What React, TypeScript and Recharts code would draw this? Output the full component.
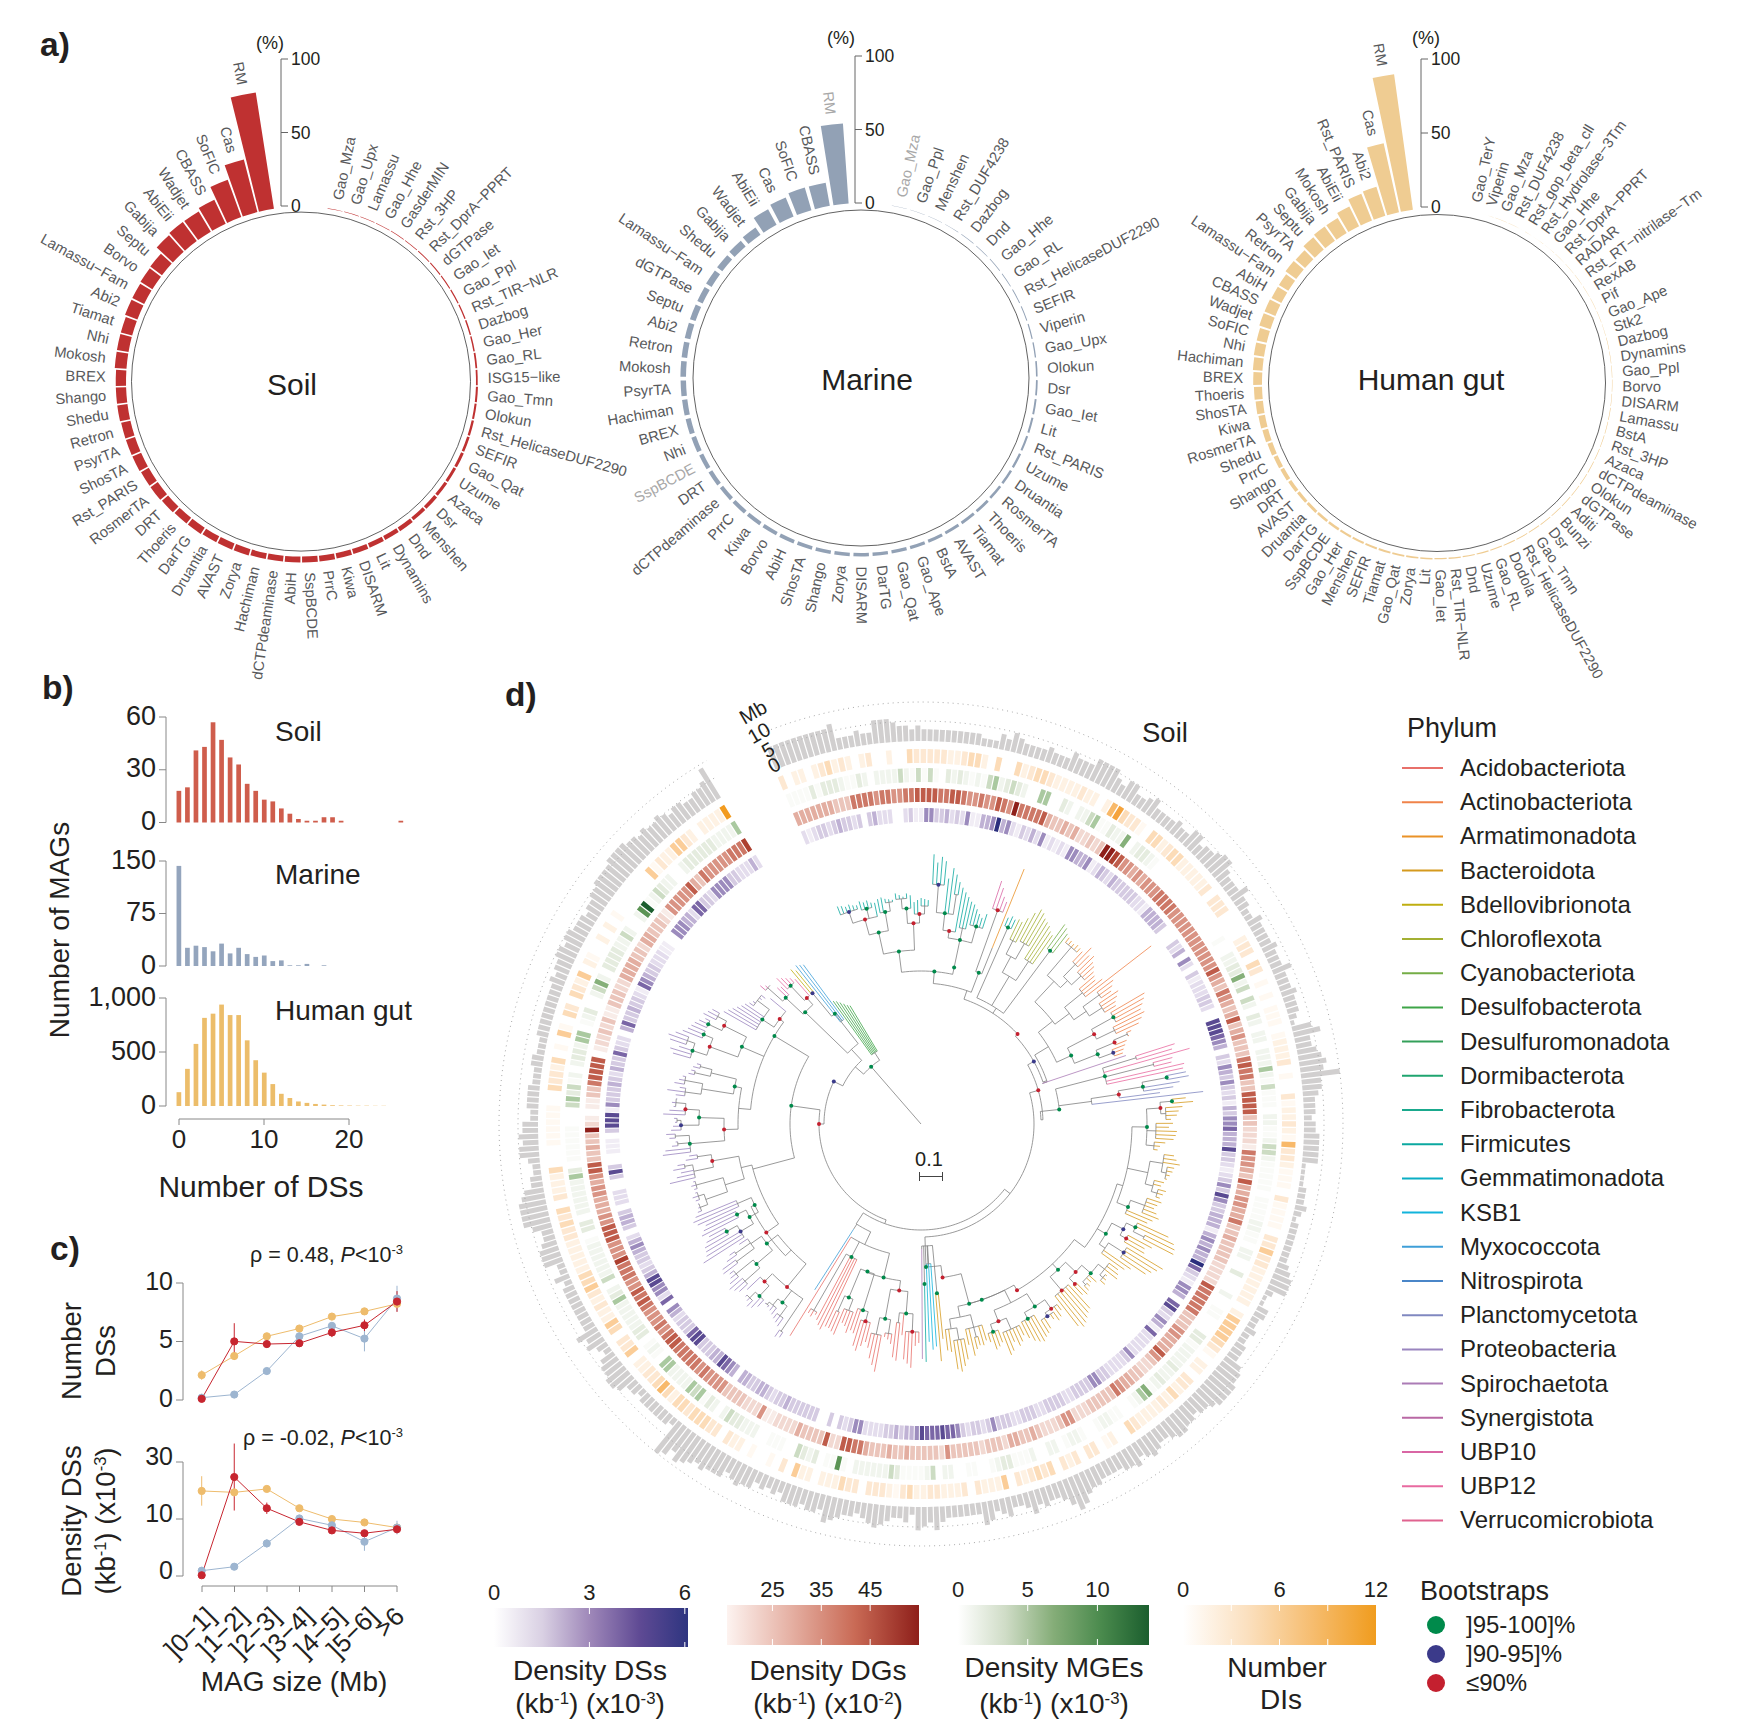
import React from 'react';
import {
  BarChart, Bar, LineChart, Line, XAxis, YAxis, ErrorBar, ReferenceLine,
  RadialBarChart, RadialBar, PolarAngleAxis, PolarRadiusAxis, PolarGrid, Cell,
} from 'recharts';

const FONT = '"Liberation Sans", Arial, sans-serif';
const INK = '#231f20';

// ---------- panel a ----------
const soilNames = ['RM','Cas','SoFIC','CBASS','Wadjet','AbiEii','Gabija','Septu','Borvo','Lamassu−Fam','Abi2','Tiamat','Nhi','Mokosh','BREX','Shango','Shedu','Retron','PsyrTA','ShosTA','Rst_PARIS','RosmerTA','DRT','Thoeris','DarTG','Druantia','AVAST','Zorya','Hachiman','dCTPdeaminase','AbiH','SspBCDE','PrrC','Kiwa','DISARM','Lit','Dynamins','Dnd','Menshen','Dsr','Azaca','Uzume','Gao_Qat','SEFIR','Rst_HelicaseDUF2290','Olokun','Gao_Tmn','ISG15−like','Gao_RL','Gao_Her','Dazbog','Rst_TIR−NLR','Gao_Ppl','Gao_Iet','dGTPase','Rst_DprA−PPRT','Rst_3HP','GasderMIN','Gao_Hhe','Lamassu','Gao_Upx','Gao_Mza'];
const soilShare = [80,37,27,18,16,16,15,10,9.5,9,9,8,8,8,7,7,7,6.5,6.5,6.5,6,6,5.5,5,5,4.5,4.5,4.5,4,4,4,4,4,3.8,3.5,3.2,3,3,2.5,2.5,2.2,2,2,1.8,1.6,1.4,1.4,1.2,1.2,1,1,0.9,0.8,0.7,0.7,0.6,0.5,0.5,0.4,0.4,0.3,0.3];
const marineNames = ['RM','CBASS','SoFIC','Cas','AbiEii','Wadjet','Gabija','Shedu','Lamassu−Fam','dGTPase','Septu','Abi2','Retron','Mokosh','PsyrTA','Hachiman','BREX','Nhi','SspBCDE','DRT','dCTPdeaminase','PrrC','Kiwa','Borvo','AbiH','ShosTA','Shango','Zorya','DISARM','DarTG','Gao_Qat','Gao_Ape','BstA','AVAST','Tiamat','Thoeris','RosmerTA','Druantia','Uzume','Rst_PARIS','Lit','Gao_Iet','Dsr','Olokun','Gao_Upx','Viperin','SEFIR','Rst_HelicaseDUF2290','Gao_RL','Gao_Hhe','Dnd','Dazbog','Rst_DUF4238','Menshen','Gao_Ppl','Gao_Mza'];
const marineShare = [54.6,16,16,14,12,6,5,4.5,4.4,4,4,3.9,3.8,3.8,3.7,3.6,3.5,3.3,3,3,2.8,2.8,2.7,2.6,2.5,2.5,2.5,2.4,2.4,2.3,2.2,2.2,2.2,2,2,1.9,1.8,1.7,1.6,1.4,1.4,1.3,1.2,1.1,0.9,0.8,0.7,0.6,0.5,0.5,0.4,0.4,0.3,0.3,0.2,0.2];
const gutNames = ['RM','Cas','Abi2','Rst_PARIS','AbiEii','Mokosh','Gabija','Septu','PsyrTA','Retron','Lamassu−Fam','AbiH','CBASS','Wadjet','SoFIC','Nhi','Hachiman','BREX','Thoeris','ShosTA','Kiwa','RosmerTA','Shedu','PrrC','Shango','DRT','AVAST','Druantia','DarTG','SspBCDE','Gao_Her','Menshen','SEFIR','Tiamat','Gao_Qat','Zorya','Lit','Gao_Iet','Rst_TIR−NLR','Dnd','Uzume','Gao_RL','Dodola','Rst_HelicaseDUF2290','Gao_Tmn','Dsr','Bunzi','Aditi','dGTPase','Olokun','dCTPdeaminase','Azaca','Rst_3HP','BstA','Lamassu','DISARM','Borvo','Gao_Ppl','Dynamins','Dazbog','Stk2','Gao_Ape','Pif','RexAB','Rst_RT−nitrilase−Tm','RADAR','Rst_DprA−PPRT','Gao_Hhe','Rst_Hydrolase−3Tm','Rst_gop_beta_cll','Rst_DUF4238','Gao_Mza','Viperin','Gao_TerY'];
const gutShare = [93,48,20.6,19.6,15,12,12,11,8.5,9,7.5,7.5,8,8,7,7,6.5,6,5.5,5,4.5,4,3.5,3,2.8,2.5,2.2,2,1.8,1.7,1.6,1.5,1.4,1.3,1.2,1.1,1,0.9,0.9,0.8,0.8,0.7,0.7,0.6,0.6,0.6,0.5,0.5,0.5,0.5,0.5,0.4,0.4,0.4,0.4,0.3,0.3,0.3,0.3,0.3,0.2,0.2,0.2,0.2,0.2,0.1,0.1,0.1,0.1,0.1,0.1,0.1,0.1,0.1];
const shareTicks = [0, 50, 100];

function ShareWheel({ names, share, color, cx, cy, ring, start, end, faded = [] }: any) {
  const W = 680, H = 700;
  const left = cx - W / 2;
  const data = names.map((name: string, i: number) => ({ name, share: share[i] }));
  const band = (end - start) / names.length;
  const tick = (p: any) => {
    const idx = names.indexOf(p.payload.value);
    let phi = 90 - (start + (idx + 0.5) * band);
    if (phi < -180) phi += 360;
    const r = 175 + share[idx] * 1.47 + 10;
    const rad = (phi * Math.PI) / 180;
    const tx = W / 2 + r * Math.sin(rad), ty = cy - r * Math.cos(rad);
    const onRight = phi >= 0;
    const rot = onRight ? phi - 90 : phi + 90;
    return (
      <text x={tx} y={ty} dy={5} fontSize={14.8} fontFamily={FONT}
        fill={faded.includes(p.payload.value) ? '#a8a8a8' : '#58595b'}
        textAnchor={onRight ? 'start' : 'end'} transform={`rotate(${rot} ${tx} ${ty})`}>
        {p.payload.value}
      </text>
    );
  };
  // the band scale lays the first bar one band before startAngle, so both ends move by one band
  return (
    <div style={{ position: 'absolute', left, top: 0 }}>
      <RadialBarChart width={W} height={H} cx={W / 2} cy={cy} innerRadius={175} outerRadius={322}
        layout="centric" data={data} startAngle={start + band} endAngle={end + band} barCategoryGap="9%"
        margin={{ top: 0, right: 0, bottom: 0, left: 0 }}>
        <PolarGrid gridType="circle" radialLines={false} polarRadius={[ring]} stroke="#3a3a3a" strokeWidth={0.8} />
        <PolarAngleAxis type="category" dataKey="name" axisLine={false} tickLine={false} tick={tick} />
        <PolarRadiusAxis type="number" domain={[0, 100]} tick={false} axisLine={false} />
        <RadialBar dataKey="share" fill={color} isAnimationActive={false} />
      </RadialBarChart>
    </div>
  );
}

function ShareAxis({ x, top, bottom }: any) {
  return (
    <div style={{ position: 'absolute', left: x - 12, top: top - 12 }}>
      <LineChart width={62} height={bottom - top + 24} data={[{ v: 0 }, { v: 100 }]}
        margin={{ top: 12, bottom: 12, left: 0, right: 0 }}>
        <XAxis hide />
        <YAxis orientation="right" width={50} domain={[0, 100]} ticks={shareTicks} stroke="#666" tickSize={7} tickMargin={3}
          tick={{ fontSize: 17.5, fill: INK, fontFamily: FONT }} interval={0} />
        <Line dataKey="v" stroke="none" dot={false} isAnimationActive={false} />
      </LineChart>
    </div>
  );
}

// ---------- panel b ----------
const soilHist = [18,20,41,43,57,47,37,33,22,18,13,12,8,5,2,1,1,3,3,1,0,0,0,0,0,0,1];
const marineHist = [143,26,29,27,21,32,18,26,17,13,15,7,8,1,1,3,0,1];
const gutHist = [128,344,575,816,855,939,842,842,608,424,309,203,113,74,42,29,19,13,6,5,4,3,3,2,2];

function Histogram({ values, color, top, bottom, max, ticks }: any) {
  const data = values.map((n: number, i: number) => ({ ds: i, n }));
  return (
    <div style={{ position: 'absolute', left: 166 - 90, top: top - 20 }}>
      <BarChart width={90 + 245} height={bottom - top + 35} data={data} margin={{ top: 20, bottom: 15, left: 0, right: 0 }}>
        <XAxis type="number" dataKey="ds" domain={[-1.5, 27.2]} hide />
        <YAxis width={90} domain={[0, max]} ticks={ticks} stroke="#888" tickSize={7} tickMargin={3} interval={0}
          tickFormatter={(v: number) => v.toLocaleString('en-US')}
          tick={{ fontSize: 27, fill: INK, fontFamily: FONT, dy: -2 }} />
        <Bar dataKey="n" fill={color} barSize={4.7} isAnimationActive={false} />
      </BarChart>
    </div>
  );
}

// ---------- panel c ----------
const sizeBins = [']0−1]', ']1−2]', ']2−3]', ']3−4]', ']4−5]', ']5−6]', '>6'];
const numGut = [2.05,3.7,5.4,6.07,7.1,7.55,8.2];
const numMarine = [0.1,0.37,2.4,5.4,6.3,5.2,8.66];
const numSoil = [0,4.96,4.73,4.8,5.73,6.35,8.4];
const numGutErr = [0.4,0.3,0.1,0.1,0.1,0.1,0.3];
const numMarineErr = [0.1,0.1,0.2,0.2,0.2,1.1,1.1];
const numSoilErr = [0.1,1.57,0.3,0.3,0.4,0.5,0.9];
const denGut = [14.85,14.6,15.2,11.8,9.9,9.3,8.4];
const denMarine = [0.8,1.5,5.6,10,8.8,5.9,8.4];
const denSoil = [0,17.3,11.8,9.4,7.9,7.4,8.1];
const denGutErr = [2.6,0.3,0.2,0.2,0.2,0.2,0.2];
const denMarineErr = [0.3,0.3,0.7,0.4,0.4,1.6,1.2];
const denSoilErr = [0.1,5.9,1,0.5,0.5,0.5,0.7];
const GUT_LINE = '#eebc6c', MARINE_LINE = '#9db5d0', SOIL_LINE = '#c7252f';

function SizeTrend({ gut, marine, soil, gutErr, marineErr, soilErr, tickTop, bottom, axisMax, plotMax, ticks, fmt, labelShift }: any) {
  const data = sizeBins.map((bin, i) => ({ bin, gut: gut[i], marine: marine[i], soil: soil[i], gutErr: gutErr[i], marineErr: marineErr[i], soilErr: soilErr[i] }));
  const series = [['gut', 'gutErr', GUT_LINE], ['marine', 'marineErr', MARINE_LINE], ['soil', 'soilErr', SOIL_LINE]];
  const plotH = ((bottom - tickTop) * plotMax) / axisMax;
  return (
    <>
      <div style={{ position: 'absolute', left: 183 - 40, top: tickTop - 20 }}>
        <LineChart width={48} height={bottom - tickTop + 40} data={[{ v: 0 }]} margin={{ top: 20, bottom: 20, left: 0, right: 0 }}>
          <XAxis hide />
          <YAxis width={40} domain={[0, axisMax]} ticks={ticks} stroke="#888" tickSize={7} tickMargin={3} interval={0}
            tickFormatter={fmt} tick={{ fontSize: 25, fill: INK, fontFamily: FONT, dy: labelShift }} />
          <Line dataKey="v" stroke="none" dot={false} isAnimationActive={false} />
        </LineChart>
      </div>
      <div style={{ position: 'absolute', left: 183, top: bottom - plotH - 10 }}>
        <LineChart width={232} height={plotH + 25} data={data} margin={{ top: 10, bottom: 15, left: 0, right: 0 }}>
          <XAxis dataKey="bin" hide scale="point" padding={{ left: 18.7, right: 18 }} />
          <YAxis hide domain={[0, plotMax]} />
          {series.map(([key, err, col]) => (
            <Line key={key} dataKey={key} stroke={col} strokeWidth={1} isAnimationActive={false}
              dot={{ r: 3.6, fill: col, stroke: col }}>
              <ErrorBar dataKey={err} width={0} stroke={col} strokeWidth={1} direction="y" />
            </Line>
          ))}
        </LineChart>
      </div>
    </>
  );
}

// ---------- panel d: heat rings, one level per genome, clockwise from the gap ----------
const densityDS = [
  2,1,2,3,3,2,3,4,3,3,2,3,0,3,4,2,2,2,0,0,2,3,1,1,
  5,5,3,3,4,2,3,2,5,1,1,4,4,5,9,4,5,2,1,3,2,4,2,5,1,2,1,2,1,5,5,4,4,5,1,2,4,3,2,4,3,3,3,3,3,2,2,1,4,4,4,4,3,0,0,0,3,2,4,0,5,2,0,3,1,2,2,2,3,3,2,0,0,7,7,7,6,5,4,0,3,2,5,4,3,5,3,2,3,1,4,3,5,
  5,6,4,4,4,7,3,3,2,1,2,3,5,3,7,5,3,3,4,4,4,1,4,5,4,5,4,4,9,6,3,2,1,5,5,4,0,6,7,3,2,5,4,1,6,2,2,2,2,2,5,3,2,2,2,2,3,3,5,5,3,3,3,3,2,2,3,3,3,3,2,2,3,3,3,2,2,3,3,3,5,3,2,3,3,2,3,5,6,6,7,6,6,
  6,7,5,4,4,3,4,3,3,2,2,2,2,5,5,3,2,3,0,3,0,0,3,3,3,3,3,3,4,3,3,2,3,4,4,3,3,4,4,0,4,5,6,7,4,4,3,3,3,7,7,6,3,3,3,2,4,5,0,6,2,5,5,7,7,4,3,2,3,3,4,5,4,2,0,3,4,4,3,0,2,2,2,0,0,3,7,3,0,0,1,1,1,0,3,
  7,7,7,1,5,3,3,3,4,3,2,4,3,3,6,3,2,2,0,4,6,3,3,4,3,3,2,1,6,5,4,3,3,2,2,2,1,1,0,0,5,5,5,4,4,2,6,6,3,3,2,5,5,5,5,3,3,2,2,2,4,2,
];
const densityDG = [
  4,4,4,4,4,4,4,3,3,3,6,6,6,6,5,6,6,5,5,6,6,7,7,7,
  7,6,6,7,7,6,5,5,6,5,5,7,6,5,9,6,6,6,6,7,4,3,3,4,3,4,2,2,3,2,3,9,9,8,7,5,5,4,5,4,5,5,5,6,6,6,6,5,5,5,5,5,5,5,5,5,5,5,5,7,5,4,3,6,5,4,3,4,7,3,4,5,3,3,3,6,7,6,6,3,3,7,7,7,7,3,3,2,2,2,1,6,5,5,4,3,7,4,4,
  5,5,4,4,6,3,3,4,3,3,3,3,2,2,2,2,7,6,6,6,6,6,3,3,3,5,5,4,4,4,7,5,3,2,2,3,3,4,4,5,6,3,3,3,3,3,2,2,2,5,5,3,2,2,2,3,4,3,3,4,4,2,3,3,3,2,3,3,3,3,3,5,2,3,3,3,3,3,4,3,3,4,3,3,3,4,6,6,7,
  7,2,2,7,3,3,3,3,4,2,2,2,2,1,1,5,2,2,2,3,3,3,3,5,5,5,5,6,5,6,6,6,6,6,7,7,6,5,6,5,5,5,6,7,6,7,5,5,6,6,6,8,5,5,5,7,7,7,5,5,4,4,4,5,5,4,5,7,7,3,3,4,3,3,9,2,1,0,1,1,3,3,6,7,
  7,7,7,0,1,2,2,3,2,3,1,1,3,3,3,2,2,4,4,4,4,3,3,2,4,4,3,3,3,2,1,5,5,5,5,5,7,4,3,6,5,5,5,5,5,6,6,6,8,
];
const densityMGE = [
  1,1,1,1,3,1,3,3,3,2,1,1,3,2,0,2,2,2,2,4,2,1,4,1,
  4,1,0,3,2,3,2,1,2,1,4,5,2,3,4,3,2,0,0,5,5,0,0,3,2,0,2,2,4,5,1,1,3,2,2,6,0,2,3,3,2,1,0,0,0,0,0,0,0,0,0,0,0,0,0,0,0,0,1,0,0,2,2,3,3,6,2,4,0,4,2,0,3,2,0,2,2,0,2,2,2,5,2,1,4,1,1,1,0,2,2,1,1,2,4,
  4,2,1,1,1,1,1,0,1,1,1,1,2,2,1,1,0,2,2,0,0,3,0,0,0,2,0,0,1,1,0,0,0,3,3,1,2,2,2,2,3,2,2,3,2,1,6,5,2,1,0,0,1,1,2,2,1,0,0,1,2,2,1,0,2,2,0,0,2,1,1,1,3,3,2,1,0,0,1,1,0,0,2,2,0,4,2,1,1,1,1,3,4,2,
  2,2,2,2,2,0,1,7,1,1,0,3,2,3,4,0,0,1,1,1,0,0,2,2,2,3,3,4,2,0,2,3,1,5,4,5,2,2,2,2,5,5,0,1,2,1,0,3,3,2,2,2,2,2,5,3,2,0,4,2,2,2,2,2,2,1,0,3,3,0,2,2,2,2,2,2,5,3,0,1,1,1,1,1,1,0,0,0,4,5,3,
  4,1,2,0,2,3,3,2,5,5,0,1,2,3,0,0,2,4,6,2,0,3,3,3,3,2,2,4,2,0,0,2,7,9,1,2,4,3,2,2,0,0,2,3,3,3,3,3,3,2,2,2,2,5,
];
const numberDI = [
  3,0,2,2,0,2,3,4,2,3,2,0,2,3,0,0,2,0,0,4,3,3,3,3,
  3,2,2,3,4,4,2,0,4,0,0,4,2,3,4,4,3,2,2,2,2,3,2,2,0,2,6,7,4,3,3,1,0,4,4,2,3,4,4,2,2,2,2,2,3,0,3,3,3,0,0,0,0,2,3,3,0,4,3,0,1,0,1,0,1,1,1,0,1,2,2,2,3,0,1,0,0,3,1,2,2,3,2,1,6,3,
  3,2,1,1,1,0,3,1,1,1,1,0,3,3,5,3,3,2,2,2,2,2,2,0,2,5,5,5,5,4,3,1,0,2,2,0,3,3,2,4,2,3,2,2,2,2,3,4,0,0,2,1,0,3,3,0,3,2,3,0,4,3,4,3,2,3,0,5,2,2,2,3,0,3,2,2,2,3,3,2,2,4,3,1,2,3,
  3,3,0,3,3,4,2,2,2,0,2,2,5,0,3,0,1,0,0,1,0,2,2,3,0,3,3,4,4,4,3,4,4,2,4,6,4,3,3,2,2,0,5,3,3,0,4,5,2,2,3,2,3,5,4,4,2,2,2,2,2,3,3,4,3,4,0,3,2,2,2,4,0,0,0,1,1,1,1,1,1,0,0,4,3,
  3,2,4,0,1,0,5,1,0,4,3,0,4,3,2,5,0,2,1,0,0,2,0,2,0,1,0,0,0,0,0,0,0,5,1,3,2,2,5,5,3,2,0,2,2,2,2,8,
];
const genomeMb = [
  6,6,6,6,6,6,6,6,6,6,7,3,3,3,4,3,3,6,6,6,5,4,4,3,
  4,3,3,3,3,3,3,3,3,3,3,2,2,2,4,3,5,4,3,3,3,3,4,3,3,3,5,4,4,4,6,6,6,6,4,3,5,5,3,3,4,5,3,3,3,3,4,3,3,5,5,3,4,4,5,6,6,4,3,3,3,5,3,3,2,2,4,3,3,3,3,4,3,3,3,5,3,3,3,4,3,3,3,2,1,5,7,4,4,5,6,7,6,10,5,
  5,4,3,3,3,2,3,3,4,4,4,4,4,1,1,1,1,2,2,2,3,2,1,2,2,2,2,2,2,2,3,4,5,5,5,2,1,1,3,3,2,2,3,2,2,3,3,3,5,6,6,7,7,7,7,6,5,5,4,5,5,6,6,5,4,4,5,6,5,4,6,5,5,4,4,4,4,5,5,6,8,9,7,5,4,4,5,4,6,4,3,3,5,4,3,5,6,3,3,3,3,3,
  3,4,6,4,5,6,2,4,3,3,4,5,6,5,4,3,4,4,5,6,7,4,5,5,4,5,5,5,3,4,3,4,3,5,5,6,5,4,6,6,6,7,6,7,8,9,7,9,10,2,3,3,3,3,3,3,2,3,3,5,6,6,5,5,4,2,3,5,4,6,3,3,3,3,3,3,3,3,2,4,2,2,5,5,5,4,3,3,5,7,7,7,7,6,5,3,
  3,2,2,3,5,5,4,5,4,4,2,2,3,3,3,3,2,2,2,3,3,2,2,2,3,3,3,3,3,3,3,3,3,4,3,4,4,5,5,4,5,5,4,4,4,3,4,4,5,5,6,6,6,6,7,7,7,7,6,6,5,6,5,5,6,5,4,5,5,4,4,5,5,6,9,
];
const dsShades = ['#ffffff','#f1edf5','#e4dded','#d5cbe2','#bfb1d4','#9c8bbd','#7a66a6','#5a4a92','#3f3686','#2b2f7d'];
const dgShades = ['#ffffff','#f8ece8','#f2d9d2','#ebc5bb','#e3aea1','#d99384','#cd7867','#bf5c4a','#ad4030','#8e1f1a'];
const mgeShades = ['#ffffff','#fafbf8','#f1f5ee','#e5ecdf','#ccdcc3','#aac9a0','#86b07a','#5c9455','#3d7c40','#1b5e2e'];
const diShades = ['#ffffff','#fff9f2','#fef2e4','#fde8d2','#fcdcb8','#fbcd98','#f8b96a','#f5a33c','#f29b1f'];

const RING_START = 111.5, RING_END = -239.5;
const DCX = 920.5, DCY = 1124, DSIZE = 880;

function HeatRing({ levels, shades, inner, outer }: any) {
  const data = levels.map((level: number, id: number) => ({ id, cell: 1 }));
  return (
    <div style={{ position: 'absolute', left: DCX - DSIZE / 2, top: DCY - DSIZE / 2 }}>
      <RadialBarChart width={DSIZE} height={DSIZE} cx={DSIZE / 2} cy={DSIZE / 2} innerRadius={inner} outerRadius={outer}
        layout="centric" data={data} startAngle={RING_START} endAngle={RING_END} barCategoryGap="10%"
        margin={{ top: 0, right: 0, bottom: 0, left: 0 }}>
        <PolarAngleAxis type="category" dataKey="id" tick={false} axisLine={false} tickLine={false} />
        <PolarRadiusAxis type="number" domain={[0, 1]} tick={false} axisLine={false} />
        <RadialBar dataKey="cell" isAnimationActive={false}>
          {levels.map((level: number, i: number) => <Cell key={i} fill={shades[level]} />)}
        </RadialBar>
      </RadialBarChart>
    </div>
  );
}

function GenomeRing() {
  const data = genomeMb.map((mb, id) => ({ id, mb }));
  return (
    <div style={{ position: 'absolute', left: DCX - DSIZE / 2, top: DCY - DSIZE / 2 }}>
      <RadialBarChart width={DSIZE} height={DSIZE} cx={DSIZE / 2} cy={DSIZE / 2} innerRadius={383} outerRadius={422}
        layout="centric" data={data} startAngle={RING_START} endAngle={RING_END} barCategoryGap="10%"
        margin={{ top: 0, right: 0, bottom: 0, left: 0 }}>
        <PolarAngleAxis type="category" dataKey="id" tick={false} axisLine={false} tickLine={false} />
        <PolarRadiusAxis type="number" domain={[0, 10]} tick={false} axisLine={false} />
        <RadialBar dataKey="mb" fill="#d1cfcf" isAnimationActive={false} />
      </RadialBarChart>
    </div>
  );
}

// ---------- panel d: tree ----------
const phylumNames = ['Acidobacteriota','Actinobacteriota','Armatimonadota','Bacteroidota','Bdellovibrionota','Chloroflexota','Cyanobacteriota','Desulfobacterota','Desulfuromonadota','Dormibacterota','Fibrobacterota','Firmicutes','Gemmatimonadota','KSB1','Myxococcota','Nitrospirota','Planctomycetota','Proteobacteria','Spirochaetota','Synergistota','UBP10','UBP12','Verrucomicrobiota'];
const phylumColors = ['#e8706a','#f0834a','#ea9227','#d59a1e','#bfae10','#a3b033','#74ad46','#3fa548','#34a05a','#1fa56f','#1aa98d','#0ba8a0','#0aaec4','#12b4dc','#3f9fd8','#4a86c8','#8088c0','#9a85bf','#ab7cb6','#b968a4','#d966a4','#e86aa0','#e0638f'];

// node: [radius, ...children]; a bare number is a tip radius.
// Strings: phylum name, bootstrap class g/b/r, or @angle (degrees clockwise from the top).
const firmSmall = ['Firmicutes',174,'g',[196,'g',[212,'r',[224,'b',233,232,230,231,229,228],[222,'g',231,229,230,227],226],[215,'g',229,230,[224,228,227,226]]],[201,'r',[216,'g',[226,232,230,228,231],229],[210,'r',222,224,[218,226,225,224]]]];
const firmLong = ['Firmicutes',160,'g',[188,'g',[195,'r',[212,'g',[240,'b',270,262,268,264],247,258,[232,252,245]],240],[200,236,232,228],[205,'g',226,222,218,215,220]]];
const pinkOrange = [162,'g',['UBP10',227,'r',256,250,242,238],['Armatimonadota',190,275]];
const chloroGroup = [138,'@33',['Firmicutes',215,'g',224,227,225],['Chloroflexota',172,[190,[205,227,226,232],[208,240,246,244,240]],[195,238,236,232,230]],['Cyanobacteriota',216,'g',246,244,240]];
const actino = ['Actinobacteriota',149,[167,'@52',[195,['Armatimonadota',232,238,237,236,238,237],[205,[222,236,245,238],[218,241,236,234,230]]],[185,[208,228,226,232,291],[200,[220,240,236,232],[215,238,234,230,228]]]],[165,'g',[195,'r',[220,'g',259,256,252,248],[215,250,245,240]],[190,'g',[210,'r',[225,230,226],222],[205,'b',219,216,214]]]];
const pinkPlanct = [120,'@88',[139,'g','@84',['UBP12',190,'g',[225,266,262],279,[240,260,258],270,268],['Planctomycetota',172,[200,'r',[225,'g',[250,'g',270,272],262,255],241],284]]];
const bactU = ['Bacteroidota',211,'@107',[226,'g',[240,'r',[252,'g',266,273],[245,262,258,256,250]],[235,252,248,256,255,253],[234,245,240,238]],[232,[245,255,258,262,[250,257,256,254,252]],[240,250,248,[246,254,252,250]]],[223,'g',[238,253,250,248,252,256],251,247]];
const bactM = ['Bacteroidota',215,'g',[228,'b',[238,'g',272,280,[250,283,284]],[235,'r',262,256,258]],[222,[240,'b',282,278,274,270],255,250]];
const bactL = ['Bacteroidota',200,'g',[214,'r',[226,'g',[234,245,248,250,[238,240,242,244]],236,232,[230,234,236]],[222,'r',238,235]],[218,'r',250,252,255,258,260,256]];
const bactB = ['Bacteroidota',186,'g',[200,[215,'g',[226,'r',233,238,[230,'b',240,236,232,242,245]],[222,'g',247,250,248,245,240]],[212,'r',[224,235,240,243,237,245,248],[220,'g',233,236,238,229]]],[197,[210,226,230,[220,229,232],238,226],[207,[219,240,246,251,248],230,228]]];
const cyanSet = [122,['Bacteroidota',170,'g',216,238],['KSB1',140,223,226,218],['Firmicutes',160,'g',238],['Spirochaetota',125,235]];
const acido = ['Acidobacteriota',119,'@213',[133,'@205',[158,'g',[168,'r',[190,'g',[208,'r',219,222,244,240,236],212,[200,238,235]],[198,'g',[212,222,218,216],[215,252,246,240,230]]],[157,'g',[195,'g',[205,'r',225,230,236,232],220,218],[188,'g',[200,222,216,214,228],[205,226,224]]]],[150,'g',224,229,226,222,[215,218,222,220]],249],['Myxococcota',125,197]];
const proteoL1 = [181,[211,'r',[250,256,258],[226,'g',[238,248,246,244],[234,242,240,[237,239,238]]],[222,'r',[236,'g',245,250,[244,252,248,246]],240]],[195,'g',[216,'g',[236,247,250,253],[238,249,245,243]],[208,[230,248,246],[226,238,232],218]]];
const proteoL2 = [185,'g',[195,'g',[210,'b',258,252,250,[222,'g',249,245,240]],[205,'g',246,242,238]],[200,245,248,244]];
const proteoL3 = [185,[205,[228,[236,240,238,237],[234,238,240,236]],[226,[233,236,238,235]]],[212,'r',[232,258,250,245,[240,252,247]],[226,238,234]]];
const proteoL4 = [183,[197,'r',[232,'g',260,257,[244,250,246],[246,252,255]],[222,'g',[240,'b',250,248,[244,246,247]],[236,'r',258,252,[246,248,250,245]]]],[190,'g',[222,[238,247,256,244],[240,250,246,243]],[216,[232,238,236],[228,235,232]]]];
const proteoL5 = [195,'g',[225,'r',[240,'g',258,262,254,[248,265,268,262]],[235,'g',256,252,250]],[220,'r',[235,'g',248,245,240],[230,244,241,238]]];
const proteoU = [176,'r',[190,'g',227,224,221,218,215,213,[205,210,208,205,202,200]],196];
const proteoAll = ['Proteobacteria',131,'g','@278',[174,'@255',[189,'r',proteoL1,proteoL2],proteoL3],[171,'g','@301',proteoL4,proteoL5,proteoU]];
const upperPinks = [102,'@317',[161,'g','@314',['UBP10',185,'g',[205,212,208,205],198,196],['UBP12',170,'r',[190,'g',205,202,199,196],192]],[140,'g','@322',['Bdellovibrionota',170,'b',202,198],['Myxococcota',130,202,200,198]]];
const desulfo = ['Desulfobacterota',85,'@327',151,149,146,143,140,138];

const treeRoot = [76,'g','@319',
  [87,'@311',
    [97,'b','@296',
      [102,'r','@270',
        [106,'@200',
          [113,'@128',
            [122,'r','@74',
              [129,'b','@61',
                [132,'r','@47',[141,'@19',[153,'g','@5',firmSmall,firmLong],pinkOrange],chloroGroup],
                [133,'@71',actino,['Spirochaetota',128,216]],
              ],
              pinkPlanct,
            ],
            [143,'g','@178',[155,'r','@172',[186,'g','@165',[192,'r','@150',[205,'@127',bactU,bactM],bactL],bactB]],cyanSet],
          ],
          acido,
        ],
        proteoAll,
      ],
    ],
    upperPinks,
  ],
  desulfo,
];

function buildTree(root: any[]) {
  const strokes: Record<string, any[]> = {};
  const marks: Record<string, any[]> = { g: [], b: [], r: [] };
  const at = (phi: number, r: number) => {
    const a = (phi * Math.PI) / 180;
    return { x: r * Math.sin(a), y: r * Math.cos(a) };
  };
  const push = (color: string, pts: any[]) => {
    const list = strokes[color] || (strokes[color] = []);
    list.push(...pts, { x: pts[pts.length - 1].x, y: null });
  };
  const countTips = (n: any): number => {
    if (typeof n === 'number') return 1;
    const nums = n.filter((c: any) => typeof c !== 'string');
    return nums.slice(1).reduce((s: number, c: any) => s + countTips(c), 0);
  };
  const total = countTips(root);
  const first = 90 - RING_START;
  const step = (RING_START - RING_END) / total;
  let tipIndex = 0;
  const walk = (n: any, color: string, parentR: number): number => {
    if (typeof n === 'number') {
      const phi = first + (tipIndex + 0.5) * step;
      tipIndex += 1;
      push(color, [at(phi, parentR), at(phi, n)]);
      return phi;
    }
    let own = color, boot = '', fixed: number | null = null, r = 0, gotR = false;
    const kids: any[] = [];
    n.forEach((c: any) => {
      if (typeof c === 'string') {
        if (c[0] === '@') fixed = Number(c.slice(1));
        else if (c.length === 1) boot = c;
        else own = c;
      } else if (!gotR) { r = c; gotR = true; }
      else kids.push(c);
    });
    const angles = kids.map((k) => walk(k, own, r));
    const phi = fixed !== null ? fixed : (angles[0] + angles[angles.length - 1]) / 2;
    const lo = Math.min(phi, ...angles), hi = Math.max(phi, ...angles);
    const arc = [];
    for (let a = lo; a < hi; a += 1.5) arc.push(at(a, r));
    arc.push(at(hi, r));
    push('stem', arc);
    push('stem', [at(phi, parentR), at(phi, r)]);
    if (boot) marks[boot].push(at(phi, r));
    return phi;
  };
  walk(root, 'stem', 0);
  return { strokes, marks };
}

const MB_GUIDES = [403, 422];
const BOOT_COLORS: Record<string, string> = { g: '#008a4b', b: '#3b3a8a', r: '#c4202f' };

function Tree() {
  const { strokes, marks } = buildTree(treeRoot);
  const guides = MB_GUIDES.map((r) => {
    const pts = [];
    for (let a = 90 - RING_START; a <= 90 - RING_END; a += 1) {
      const rad = (a * Math.PI) / 180;
      pts.push({ x: r * Math.sin(rad), y: r * Math.cos(rad) });
    }
    return pts;
  });
  const half = DSIZE / 2;
  return (
    <div style={{ position: 'absolute', left: DCX - half, top: DCY - half }}>
      <LineChart width={DSIZE} height={DSIZE} margin={{ top: 0, right: 0, bottom: 0, left: 0 }}>
        <XAxis type="number" dataKey="x" domain={[-half, half]} hide />
        <YAxis type="number" domain={[-half, half]} hide />
        {guides.map((g, i) => (
          <Line key={i} data={g} dataKey="y" stroke="#a9a9a9" strokeWidth={1} strokeDasharray="1 4" dot={false} isAnimationActive={false} />
        ))}
        {Object.keys(strokes).map((k) => (
          <Line key={k} data={strokes[k]} dataKey="y" dot={false} isAnimationActive={false}
            stroke={k === 'stem' ? '#808080' : phylumColors[phylumNames.indexOf(k)]} strokeWidth={0.8} />
        ))}
        {Object.keys(marks).map((k) => (
          <Line key={k} data={marks[k]} dataKey="y" stroke="none" isAnimationActive={false}
            dot={{ r: 2, fill: BOOT_COLORS[k], stroke: 'none' }} />
        ))}
      </LineChart>
    </div>
  );
}

// ---------- colour keys ----------
function ColorKey({ id, left, top, width, height, min, max, ticks, guides, stops }: any) {
  return (
    <div style={{ position: 'absolute', left: left - 15, top: top - 34 }}>
      <BarChart width={width + 30} height={height + 34} layout="vertical" data={[{ key: '', v: max }]} barCategoryGap={0}
        margin={{ top: 0, bottom: 0, left: 15, right: 15 }}>
        <defs>
          <linearGradient id={id} x1="0" x2="1" y1="0" y2="0">
            {stops.map((c: string, i: number) => <stop key={i} offset={i / (stops.length - 1)} stopColor={c} />)}
          </linearGradient>
        </defs>
        <XAxis type="number" orientation="top" domain={[min, max]} ticks={ticks} height={34} axisLine={false} tickLine={false} interval={0}
          tick={{ fontSize: 22, fill: INK, fontFamily: FONT }} />
        <YAxis type="category" dataKey="key" hide />
        <Bar dataKey="v" fill={`url(#${id})`} isAnimationActive={false} />
        {guides.map((g: number) => <ReferenceLine key={g} x={g} stroke="#fff" strokeWidth={1} strokeDasharray="6 28 6" />)}
      </BarChart>
    </div>
  );
}

const bootstrapLabels = [']95-100]%', ']90-95]%', '≤90%'];
const bootstrapDots = ['#008a4b', '#3b3a8a', '#c4202f'];

function PerKb({ x, y, exp, transform }: any) {
  return (
    <text x={x} y={y} transform={transform}>
      (kb<tspan dy={-9} fontSize="0.6em">-1</tspan><tspan dy={9}>) (x10</tspan>
      <tspan dy={-9} fontSize="0.6em">{exp}</tspan><tspan dy={9}>)</tspan>
    </text>
  );
}

function Page() {
  const txt = { fontFamily: FONT, fill: INK };
  return (
    <svg width={1738} height={1730} style={{ position: 'absolute', left: 0, top: 0, pointerEvents: 'none' }}>
      <g {...txt} fontWeight="bold" fontSize={33.5}>
        <text x={40} y={56}>a)</text>
        <text x={42} y={699}>b)</text>
        <text x={50} y={1260}>c)</text>
        <text x={505} y={706}>d)</text>
      </g>
      <g {...txt} fontSize={30} textAnchor="middle">
        <text x={292} y={395}>Soil</text>
        <text x={867} y={390}>Marine</text>
        <text x={1431} y={390}>Human gut</text>
      </g>
      <g {...txt} fontSize={18} textAnchor="middle">
        <text x={270} y={49}>(%)</text>
        <text x={841} y={44}>(%)</text>
        <text x={1426} y={44}>(%)</text>
      </g>
      <g {...txt} fontSize={28}>
        <text x={275} y={741}>Soil</text>
        <text x={275} y={884}>Marine</text>
        <text x={275} y={1020}>Human gut</text>
      </g>
      <text {...txt} fontSize={30} textAnchor="middle" x={261} y={1197}>Number of DSs</text>
      <text {...txt} fontSize={28} textAnchor="middle" transform="rotate(-90 69 930)" x={69} y={930}>Number of MAGs</text>
      <g {...txt} fontSize={27.5} textAnchor="middle">
        <text transform="rotate(-90 81 1351)" x={81} y={1351}>Number</text>
        <text transform="rotate(-90 115 1351)" x={115} y={1351}>DSs</text>
        <text transform="rotate(-90 81 1521)" x={81} y={1521}>Density DSs</text>
        <PerKb x={115} y={1521} exp="-3" transform="rotate(-90 115 1521)" />
        <text x={294} y={1691} fontSize={28}>MAG size (Mb)</text>
      </g>
      <g {...txt} fontSize={21.5} textAnchor="end">
        <text x={403} y={1262}>ρ = 0.48, <tspan fontStyle="italic">P</tspan>&lt;10<tspan dy={-8} fontSize={13}>-3</tspan></text>
        <text x={403} y={1445}>ρ = -0.02, <tspan fontStyle="italic">P</tspan>&lt;10<tspan dy={-8} fontSize={13}>-3</tspan></text>
      </g>
      <text {...txt} fontSize={27.5} x={1142} y={742}>Soil</text>
      <text {...txt} fontSize={20} textAnchor="middle" x={929} y={1166}>0.1</text>
      <g stroke="#444" strokeWidth={1}>
        <line x1={919.5} x2={942.5} y1={1176.5} y2={1176.5} />
        <line x1={919.5} x2={919.5} y1={1172} y2={1181} />
        <line x1={942.5} x2={942.5} y1={1172} y2={1181} />
      </g>
      <g {...txt} fontSize={20} textAnchor="middle" dominantBaseline="central">
        <text transform="rotate(-30 753 712)" x={753} y={712}>Mb</text>
        <text transform="rotate(-30 759 733)" x={759} y={733}>10</text>
        <text transform="rotate(-30 768 750)" x={768} y={750}>5</text>
        <text transform="rotate(-30 774 765)" x={774} y={765}>0</text>
      </g>
      <text {...txt} fontSize={27} x={1407} y={737}>Phylum</text>
      {phylumNames.map((name, i) => {
        const y = 768 + i * 34.2;
        return (
          <g key={name}>
            <line x1={1402} x2={1443} y1={y} y2={y} stroke={phylumColors[i]} strokeWidth={2} />
            <text {...txt} fontSize={24} x={1460} y={y + 8}>{name}</text>
          </g>
        );
      })}
      <g {...txt} fontSize={28} textAnchor="middle">
        <text x={590} y={1680}>Density DSs</text>
        <PerKb x={590} y={1713} exp="-3" />
        <text x={828} y={1680}>Density DGs</text>
        <PerKb x={828} y={1713} exp="-2" />
        <text x={1054} y={1677}>Density MGEs</text>
        <PerKb x={1054} y={1713} exp="-3" />
        <text x={1277} y={1677}>Number</text>
        <text x={1281} y={1709}>DIs</text>
      </g>
      <text {...txt} fontSize={27} x={1420} y={1600}>Bootstraps</text>
      {bootstrapLabels.map((label, i) => (
        <g key={label}>
          <circle cx={1436} cy={1625 + i * 29} r={9} fill={bootstrapDots[i]} />
          <text {...txt} fontSize={24} x={1466} y={1633 + i * 29}>{label}</text>
        </g>
      ))}
    </svg>
  );
}

export default function App() {
  return (
    <div style={{ position: 'absolute', left: 0, top: 0, width: 1738, height: 1730, background: '#fff', overflow: 'hidden' }}>
      <ShareWheel names={soilNames} share={soilShare} color="#bf3131" cx={300.5} cy={381.6} ring={169.5} start={98.4} end={441.3} />
      <ShareWheel names={marineNames} share={marineShare} color="#92a1b5" cx={861} cy={378} ring={168} start={93.5} end={440.5} faded={['RM', 'Gao_Mza', 'SspBCDE']} />
      <ShareWheel names={gutNames} share={gutShare} color="#efcc92" cx={1437} cy={383} ring={168.5} start={97.5} end={440} />
      <ShareAxis x={281} top={59} bottom={206} />
      <ShareAxis x={855} top={56} bottom={203} />
      <ShareAxis x={1421} top={59} bottom={207} />

      <Histogram values={soilHist} color="#cf5d4c" top={717} bottom={822.5} max={60} ticks={[0, 30, 60]} />
      <Histogram values={marineHist} color="#94a5bd" top={861} bottom={966} max={150} ticks={[0, 75, 150]} />
      <Histogram values={gutHist} color="#ecbd6a" top={998} bottom={1106} max={1000} ticks={[0, 500, 1000]} />
      <div style={{ position: 'absolute', left: 179 - 20, top: 1115 }}>
        <BarChart width={230} height={50} data={[{ ds: 0, n: 0 }]} margin={{ top: 2, bottom: 0, left: 20, right: 40 }}>
          <XAxis type="number" dataKey="ds" domain={[0, 20]} ticks={[0, 10, 20]} height={46} stroke="#888" tickSize={6} tickMargin={5} interval={0}
            tick={{ fontSize: 26, fill: INK, fontFamily: FONT }} />
          <YAxis hide />
          <Bar dataKey="n" isAnimationActive={false} />
        </BarChart>
      </div>

      <SizeTrend gut={numGut} marine={numMarine} soil={numSoil} gutErr={numGutErr} marineErr={numMarineErr} soilErr={numSoilErr}
        tickTop={1283} bottom={1400} axisMax={10} plotMax={10} ticks={[0, 5, 10]} labelShift={-2} />
      <SizeTrend gut={denGut} marine={denMarine} soil={denSoil} gutErr={denGutErr} marineErr={denMarineErr} soilErr={denSoilErr}
        tickTop={1462} bottom={1576} axisMax={20} plotMax={24} ticks={[0, 10, 20]} labelShift={-6}
        fmt={(v: number) => (v === 20 ? '30' : String(v))} />
      <div style={{ position: 'absolute', left: 201.7 - 80, top: 1582 }}>
        <LineChart width={320} height={122} data={sizeBins.map((bin) => ({ bin, v: 0 }))} margin={{ top: 2, bottom: 0, left: 80, right: 45 }}>
          <XAxis dataKey="bin" scale="point" height={118} stroke="#888" tickSize={6} interval={0}
            tick={(p: any) => {
              const tx = p.x + (p.payload.value === '>6' ? 9 : 15), ty = p.y + 24;
              return (
                <text x={tx} y={ty} textAnchor="end" fontSize={26} fontFamily={FONT} fill={INK} transform={`rotate(-45 ${tx} ${ty})`}>
                  {p.payload.value}
                </text>
              );
            }} />
          <YAxis hide />
          <Line dataKey="v" stroke="none" dot={false} isAnimationActive={false} />
        </LineChart>
      </div>

      <GenomeRing />
      <HeatRing levels={numberDI} shades={diShades} inner={361} outer={375} />
      <HeatRing levels={densityMGE} shades={mgeShades} inner={342} outer={356} />
      <HeatRing levels={densityDG} shades={dgShades} inner={322} outer={336} />
      <HeatRing levels={densityDS} shades={dsShades} inner={302} outer={316} />
      <Tree />

      <ColorKey id="dsKey" left={494} top={1608} width={194} height={39} min={0} max={6.1} ticks={[0, 3, 6]} guides={[3, 6]}
        stops={['#ffffff', '#d9d0e3', '#9d86b8', '#5f4a94', '#2e3580']} />
      <ColorKey id="dgKey" left={727} top={1605} width={192} height={40} min={15.7} max={55} ticks={[25, 35, 45]} guides={[25, 35, 45]}
        stops={['#fdf3f0', '#e5b0a3', '#c96a55', '#8e1f1a']} />
      <ColorKey id="mgeKey" left={958} top={1605} width={191} height={40} min={0} max={13.7} ticks={[0, 5, 10]} guides={[5, 10]}
        stops={['#ffffff', '#cfdcc6', '#85ad78', '#4a8a4d', '#1b5e2e']} />
      <ColorKey id="diKey" left={1183} top={1605} width={193} height={40} min={0} max={12} ticks={[0, 6, 12]} guides={[3, 6, 9]}
        stops={['#ffffff', '#fbe0bf', '#f6bd70', '#f09c1e']} />

      <Page />
    </div>
  );
}
